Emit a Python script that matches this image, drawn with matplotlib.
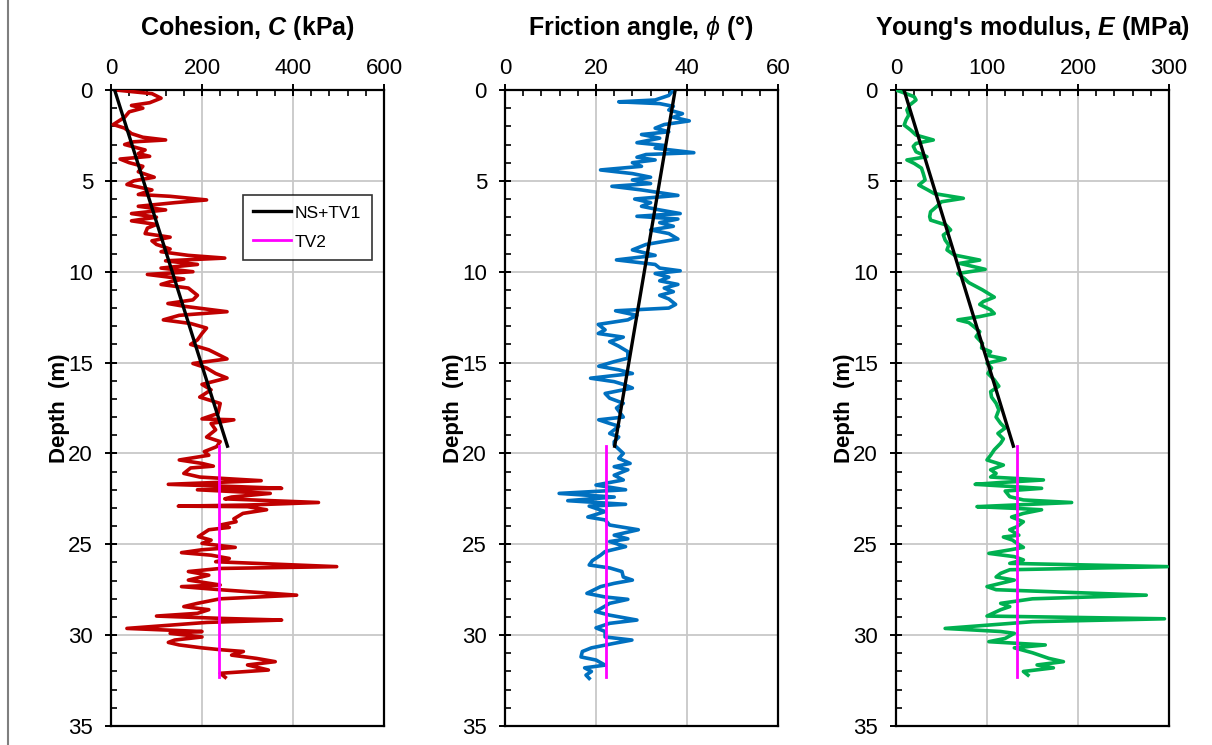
import matplotlib
matplotlib.use("Agg")
import matplotlib.pyplot as plt
from matplotlib.lines import Line2D
from matplotlib.ticker import MultipleLocator

plt.rcParams['font.family'] = ['Liberation Sans', 'DejaVu Sans']
plt.rcParams['mathtext.fontset'] = 'custom'
plt.rcParams['mathtext.rm'] = 'Liberation Sans'
plt.rcParams['mathtext.it'] = 'Liberation Sans:italic'
plt.rcParams['mathtext.bf'] = 'Liberation Sans:bold'
plt.rcParams['mathtext.bfit'] = 'Liberation Sans:bold:italic'

# ---------------- data ----------------
c_depth = [0.0, 0.2, 0.45, 0.7, 0.85, 1.0, 1.2, 1.5, 1.9, 2.1, 2.4, 2.6, 2.75, 2.85, 3.0, 3.3, 3.5, 3.65, 3.8,
           4.0, 4.2, 4.5, 4.8, 5.0, 5.2, 5.5, 5.75, 5.85, 6.05, 6.2, 6.4, 6.6, 6.8, 7.0, 7.2, 7.4, 7.6, 7.9,
           8.1, 8.3, 8.5, 8.75, 8.9, 9.1, 9.25, 9.4, 9.6, 9.8, 10.0, 10.15, 10.4, 10.55, 10.7, 10.9, 11.3,
           11.55, 11.75, 11.9, 12.2, 12.4, 12.65, 12.85, 13.1, 13.4, 13.75, 14.0, 14.3, 14.8, 15.05, 15.3,
           15.6, 15.85, 16.2, 16.5, 16.9, 17.25, 17.8, 18.1, 18.15, 18.35, 18.7, 19.1, 19.35, 19.63, 19.9,
           20.1, 20.36, 20.55, 20.7, 20.8, 21.1, 21.3, 21.5, 21.6, 21.7, 21.83, 21.92, 22.0, 22.2, 22.4,
           22.5, 22.7, 22.84, 22.9, 22.93, 23.1, 23.3, 23.6, 23.76, 23.94, 24.07, 24.2, 24.58, 24.77, 24.95,
           25.17, 25.3, 25.46, 25.6, 25.78, 25.96, 26.23, 26.33, 26.5, 26.7, 26.97, 27.24, 27.33, 27.5,
           27.8, 28.0, 28.25, 28.43, 28.6, 28.8, 28.95, 29.08, 29.17, 29.3, 29.45, 29.63, 29.8, 29.9, 30.1,
           30.27, 30.4, 30.54, 30.7, 30.8, 30.9, 31.1, 31.28, 31.46, 31.64, 31.92, 32.1, 32.32]
c_value = [10, 90, 110, 85, 45, 70, 40, 30, 5, 30, 45, 70, 120, 50, 30, 75, 60, 85, 20,
           40, 70, 60, 95, 50, 35, 90, 60, 130, 210, 140, 60, 120, 45, 100, 45, 100, 80, 75,
           130, 90, 100, 130, 110, 170, 250, 120, 190, 110, 180, 80, 160, 130, 110, 170, 190,
           180, 125, 160, 255, 150, 115, 175, 210, 200, 190, 175, 215, 255, 180, 210,
           230, 255, 200, 220, 195, 240, 235, 200, 270, 220, 230, 210, 240, 232, 205,
           215, 150, 200, 225, 175, 160, 195, 330, 230, 126, 280, 375, 190, 350, 265,
           250, 456, 300, 148, 300, 342, 290, 270, 275, 240, 260, 215, 192, 220, 200,
           273, 200, 155, 220, 260, 230, 496, 240, 170, 215, 170, 240, 155, 240,
           408, 240, 190, 160, 215, 190, 100, 245, 375, 210, 130, 35, 200, 130, 200,
           140, 126, 150, 200, 240, 291, 265, 320, 361, 300, 346, 240, 251]

phi_depth = [0.0, 0.3, 0.55, 0.65, 0.75, 0.9, 1.1, 1.3, 1.5, 1.7, 1.9, 2.1, 2.3, 2.45, 2.65, 2.9, 3.05, 3.2,
             3.45, 3.55, 3.7, 3.85, 4.0, 4.2, 4.4, 4.6, 4.8, 4.95, 5.15, 5.3, 5.5, 5.65, 5.8, 6.0, 6.2, 6.4,
             6.6, 6.8, 6.95, 7.1, 7.3, 7.5, 7.7, 7.9, 8.2, 8.5, 8.8, 9.1, 9.35, 9.6, 9.8, 9.95, 10.1, 10.3,
             10.5, 10.7, 10.9, 11.1, 11.3, 11.5, 11.8, 12.0, 12.15, 12.4, 12.65, 12.9, 13.2, 13.4, 13.6,
             13.85, 14.1, 14.4, 14.76, 14.95, 15.2, 15.4, 15.6, 15.86, 16.05, 16.2, 16.4, 16.7, 16.96,
             17.24, 17.5, 18.0, 18.15, 18.35, 18.5, 18.9, 19.1, 19.35, 19.53, 20.0, 20.27, 20.55, 20.73,
             20.9, 21.2, 21.46, 21.74, 22.0, 22.2, 22.4, 22.6, 22.8, 22.9, 23.2, 23.5, 23.66, 23.94, 24.2,
             24.5, 24.7, 24.85, 25.13, 25.4, 25.6, 25.9, 26.14, 26.3, 26.5, 26.8, 26.97, 27.15, 27.33,
             27.7, 27.9, 28.03, 28.25, 28.4, 28.7, 28.9, 29.17, 29.35, 29.6, 29.8, 30.1, 30.27, 30.45,
             30.7, 30.9, 31.2, 31.37, 31.65, 31.8, 32.0, 32.2, 32.38]
phi_value = [37, 36, 33, 25, 34, 37, 36, 39, 37, 40.5, 35, 33, 36, 30, 34, 29, 35, 33,
             41.5, 31, 29, 33, 28, 30, 21, 28, 32, 28, 32, 23.5, 30, 34, 38, 28.5, 32, 30,
             34, 38.5, 29, 38, 34, 37, 32, 36, 38, 31, 28, 33, 24.5, 33, 34, 38.5, 33, 36,
             34, 38, 35, 37, 34, 36, 37.5, 36, 24.3, 29, 27, 20.5, 22, 20.5, 26,
             23, 25, 27, 27, 24, 20.6, 25, 28, 18.8, 24, 26, 28, 22, 23,
             26, 24.5, 26, 20.6, 23, 25, 23, 25, 24, 24, 26, 25, 27.5, 24,
             27, 24, 26, 20, 26.5, 11.9, 24, 13.8, 26.5, 18.5, 22, 18.2, 22, 23, 29.3,
             24, 27, 23, 26.5, 22, 21, 19.2, 18.5, 23, 25.7, 26, 28, 24, 21,
             18, 22, 27, 23, 22, 19.9, 23, 29, 23, 20, 22, 22, 27.9, 24,
             19, 17, 16.7, 20, 22, 17.5, 19, 17.8, 18.5]

e_depth = [0.0, 0.18, 0.37, 0.55, 0.83, 1.1, 1.38, 1.65, 1.93, 2.2, 2.48, 2.75, 2.94, 3.1, 3.4, 3.67, 3.85,
           4.04, 4.3, 4.6, 4.95, 5.23, 5.5, 5.7, 5.96, 6.15, 6.4, 6.7, 6.97, 7.16, 7.43, 7.7, 7.98, 8.26,
           8.53, 8.8, 9.08, 9.36, 9.54, 9.87, 10.1, 10.37, 10.6, 11.0, 11.4, 11.64, 11.8, 12.1, 12.3,
           12.47, 12.65, 12.8, 13.0, 13.3, 13.57, 13.94, 14.2, 14.4, 14.6, 14.8, 15.04, 15.3, 15.6,
           15.95, 16.3, 16.6, 16.9, 17.24, 17.6, 18.0, 18.35, 18.6, 18.9, 19.2, 19.44, 19.8, 20.1,
           20.36, 20.64, 20.9, 21.1, 21.3, 21.46, 21.6, 21.7, 21.83, 21.92, 22.07, 22.38, 22.56, 22.7,
           22.84, 22.93, 23.02, 23.1, 23.3, 23.5, 23.76, 24.03, 24.2, 24.5, 24.6, 24.77, 24.95, 25.17,
           25.3, 25.5, 25.68, 25.86, 26.05, 26.23, 26.4, 26.6, 26.8, 26.97, 27.33, 27.5, 27.8, 28.0,
           28.25, 28.43, 28.6, 28.95, 29.1, 29.26, 29.45, 29.63, 29.8, 29.9, 30.18, 30.36, 30.54, 30.7,
           30.97, 31.28, 31.46, 31.64, 31.8, 32.0, 32.2]
e_value = [0, 10, 20, 22, 15, 12, 14, 11, 9, 16, 22, 41, 22, 19, 22, 34, 12,
           20, 28, 30, 32, 25, 35, 42, 74, 50, 45, 38, 37, 38, 55, 60, 52, 54,
           58, 56, 64, 92, 70, 98, 68, 75, 80, 95, 108, 96, 92, 104, 108,
           92, 68, 80, 85, 92, 88, 95, 94, 104, 100, 120, 100, 105, 101,
           108, 113, 104, 105, 110, 113, 110, 115, 120, 112, 118, 115, 108, 104,
           100, 118, 104, 110, 104, 162, 115, 87, 130, 160, 120, 125, 140, 193,
           130, 89, 130, 160, 140, 127, 140, 133, 125, 135, 118, 128, 133, 140,
           126, 102, 130, 140, 125, 298, 125, 115, 110, 130, 100, 110, 275, 150,
           115, 125, 115, 100, 295, 150, 100, 54, 115, 130, 120, 102, 164, 130,
           150, 168, 184, 155, 173, 140, 145]

# trend lines (NS+TV1) and TV2 constant lines: [start depth, end depth], [start value, end value]
trend_depth = [0.0, 19.6]
c_trend = [8, 256]
phi_trend = [37.4, 24.1]
e_trend = [8.8, 129]
tv2_depth = [19.6, 32.3]
c_tv2 = [237, 237]
phi_tv2 = [22.1, 22.1]
e_tv2 = [133, 133]

titles = ["Cohesion, $\\mathbfit{C}$ (kPa)", "Friction angle, $\\phi$ (\u00b0)",
          "Young's modulus, $\\mathbfit{E}$ (MPa)"]
xlims = [600, 60, 300]
xmajor = [200, 20, 100]
colors = ["#C00000", "#0070C0", "#00B050"]

# ---------------- figure ----------------
W, H = 1212, 745
fig = plt.figure(figsize=(W / 100, H / 100), dpi=100)
lefts = [111, 505, 896]
axw = 273
top, bottom = 90, 726

series = [(c_depth, c_value, c_trend, c_tv2),
          (phi_depth, phi_value, phi_trend, phi_tv2),
          (e_depth, e_value, e_trend, e_tv2)]

for i, (dep, val, tr, tv) in enumerate(series):
    ax = fig.add_axes([lefts[i] / W, 1 - bottom / H, axw / W, (bottom - top) / H])
    ax.plot(val, dep, color=colors[i], lw=2.6, zorder=3, solid_joinstyle='round')
    l1, = ax.plot(tr, trend_depth, color='black', lw=2.4, zorder=4, label='NS+TV1')
    l2, = ax.plot(tv, tv2_depth, color='#FF00FF', lw=2.0, zorder=5, label='TV2')
    ax.set_xlim(0, xlims[i])
    ax.set_ylim(35, 0)
    ax.xaxis.set_major_locator(MultipleLocator(xmajor[i]))
    ax.xaxis.set_minor_locator(MultipleLocator(xmajor[i] / 5))
    ax.yaxis.set_major_locator(MultipleLocator(5))
    ax.yaxis.set_minor_locator(MultipleLocator(1))
    ax.xaxis.tick_top()
    ax.tick_params(axis='x', which='major', direction='inout', length=8, width=1.4,
                   labelsize=16, pad=4, top=True, bottom=False)
    ax.tick_params(axis='x', which='minor', direction='in', length=4, width=1.2,
                   top=True, bottom=False)
    ax.tick_params(axis='y', which='major', direction='inout', length=8, width=1.4,
                   labelsize=16, pad=9, left=True, right=False)
    ax.tick_params(axis='y', which='minor', direction='in', length=4, width=1.2,
                   left=True, right=False)
    ax.grid(True, which='major', color='#C8C8C8', lw=1.3, zorder=0)
    ax.set_axisbelow(True)
    for s in ax.spines.values():
        s.set_linewidth(1.6)
        s.set_color('black')
    ax.set_ylabel("Depth  (m)", fontsize=16, fontweight='bold')
    ax.yaxis.set_label_coords(-0.15, 0.5)
    ax.text(0.5, 1 + (90 - 28) / (bottom - top), titles[i], transform=ax.transAxes,
            ha='center', va='center', fontsize=18, fontweight='bold')
    if i == 0:
        leg = ax.legend(handles=[l1, l2], loc='upper left', bbox_to_anchor=(0.483, 0.835),
                        fontsize=12.5, frameon=True, fancybox=False, edgecolor='black',
                        handlelength=2.2, handletextpad=0.2, borderpad=0.6, labelspacing=0.8,
                        borderaxespad=0)
        leg.get_frame().set_linewidth(1.2)

fig.add_artist(Line2D([7.5 / W, 7.5 / W], [0, 1], color='#7F7F7F', lw=1.5))

fig.savefig("out.png", dpi=100)
